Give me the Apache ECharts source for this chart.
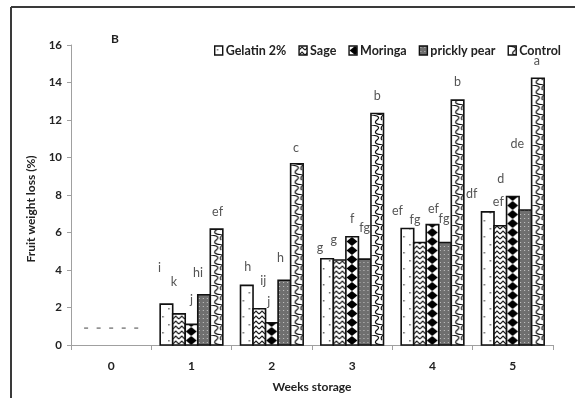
<!DOCTYPE html>
<html>
<head>
<meta charset="utf-8">
<script src="https://cdn.jsdelivr.net/npm/echarts@6/dist/echarts.min.js"></script>
<style>
  html, body { margin: 0; padding: 0; background: #fff; }
  #chart { width: 575px; height: 398px; }
</style>
</head>
<body>
<div id="chart"></div>
<script>
// Fruit weight loss (%) over weeks of storage, per coating treatment
const weeks = ['0', '1', '2', '3', '4', '5'];
const treatments = ['Gelatin 2%', 'Sage', 'Moringa', 'prickly pear', 'Control'];

const gelatin     = [0.9, 2.18, 3.18, 4.60, 6.21, 7.10];
const sage        = [0.9, 1.66, 1.93, 4.53, 5.47, 6.36];
const moringa     = [0.9, 1.10, 1.19, 5.77, 6.42, 7.92];
const pricklyPear = [0.9, 2.68, 3.45, 4.58, 5.47, 7.20];
const control     = [0.9, 6.18, 9.67, 12.35, 13.06, 14.23];

// significance letters
const gelatinLetters     = ['', 'i', 'h', 'g', 'ef', 'df'];
const sageLetters        = ['', 'k', 'ij', 'g', 'fg', 'ef'];
const moringaLetters     = ['', 'j', 'j', 'f', 'ef', 'd'];
const pricklyPearLetters = ['', 'hi', 'h', 'fg', 'fg', 'de'];
const controlLetters     = ['', 'ef', 'c', 'b', 'b', 'a'];

const yTicks = { min: 0, max: 16, step: 2 };

// letter placement: [dx, rise above bar top] per week
const letterNudge = [
  [[0,0], [-7,36], [1,18], [-7,11], [-10,18], [-16,18]],
  [[0,0], [-5,32], [4,28], [-6,20], [-5,22], [-2,24]],
  [[0,0], [0,24], [-3,21], [0,18], [1,16], [-12,18]],
  [[0,0], [-6,22], [-4,22], [0,31], [-1,23], [-8,66]],
  [[0,0], [1,17], [-1,16], [0,17], [0,18], [-1,17]]
];

const values = [gelatin, sage, moringa, pricklyPear, control];
const letters = [gelatinLetters, sageLetters, moringaLetters, pricklyPearLetters, controlLetters];

// ---- fill patterns ----
function makeCanvas(w, h, draw) {
  const c = document.createElement('canvas');
  c.width = w; c.height = h;
  const ctx = c.getContext('2d');
  ctx.fillStyle = '#fff';
  ctx.fillRect(0, 0, w, h);
  draw(ctx, w, h);
  return { image: c, repeat: 'repeat' };
}
const patterns = [
  // dotted
  makeCanvas(12, 16, (ctx) => {
    ctx.fillStyle = '#666';
    ctx.fillRect(2, 3, 1.5, 1.5);
    ctx.fillRect(8, 11, 1.5, 1.5);
  }),
  // zigzag
  makeCanvas(6, 5, (ctx) => {
    ctx.strokeStyle = '#111';
    ctx.lineWidth = 1.1;
    ctx.beginPath();
    ctx.moveTo(0, 4); ctx.lineTo(3, 1); ctx.lineTo(6, 4);
    ctx.stroke();
  }),
  // diamonds
  makeCanvas(12, 9, (ctx) => {
    ctx.fillStyle = '#000';
    ctx.beginPath();
    ctx.moveTo(6, 0); ctx.lineTo(11.5, 4.5); ctx.lineTo(6, 9); ctx.lineTo(0.5, 4.5);
    ctx.closePath();
    ctx.fill();
  }),
  // dark dotted grey
  makeCanvas(4, 4, (ctx) => {
    ctx.fillStyle = '#6f6f6f';
    ctx.fillRect(0, 0, 4, 4);
    ctx.fillStyle = '#c8c8c8';
    ctx.fillRect(1, 1, 1, 1);
  }),
  // wavy rope
  makeCanvas(12, 10, (ctx) => {
    ctx.strokeStyle = '#111';
    ctx.lineWidth = 1.2;
    ctx.beginPath();
    ctx.moveTo(0, 0);
    ctx.quadraticCurveTo(11, 1, 6, 5);
    ctx.quadraticCurveTo(1, 9, 12, 10);
    ctx.stroke();
    ctx.beginPath();
    ctx.moveTo(12, 0);
    ctx.quadraticCurveTo(9, 3, 11, 5);
    ctx.stroke();
  })
];

const GROUP = 0.78;   // share of each category band taken by the bar group

function makeRenderer(k) {
  return function (params, api) {
    const wi = api.value(0);
    const v = api.value(1);
    const band = api.size([1, 0])[0];
    const barW = band * GROUP / treatments.length;
    const base = api.coord([wi, 0]);
    const top = api.coord([wi, v]);
    const left = base[0] - band * GROUP / 2 + k * barW;
    const cx = left + barW / 2;
    if (wi === 0) {
      return {
        type: 'line',
        shape: { x1: cx - 2, y1: top[1], x2: cx + 2, y2: top[1] },
        style: { stroke: '#8a8a8a', lineWidth: 1.6 }
      };
    }
    const h = base[1] - top[1];
    const nudge = letterNudge[k][wi];
    return {
      type: 'group',
      children: [
        {
          type: 'rect',
          x: left, y: base[1],
          shape: { x: 0, y: -h, width: barW, height: h },
          style: { fill: patterns[k], stroke: '#111', lineWidth: 1.6 }
        },
        {
          type: 'text',
          x: cx + nudge[0], y: top[1] - nudge[1],
          style: {
            text: letters[k][wi],
            font: '12.5px Lato',
            fill: '#555',
            align: 'center',
            verticalAlign: 'middle'
          }
        }
      ]
    };
  };
}

const chart = echarts.init(document.getElementById('chart'), null, { renderer: 'canvas' });

chart.setOption({
  animation: false,
  backgroundColor: '#fff',
  grid: { left: 71, right: 22, top: 45, bottom: 48 },
  legend: {
    left: 209,
    top: 39,
    itemWidth: 8,
    itemHeight: 9,
    itemGap: 12,
    selectedMode: false,
    textStyle: { fontFamily: 'Lato', fontWeight: 'bold', fontSize: 12.5, color: '#222', padding: [0, 0, 0, -2] },
    data: treatments.map((name, k) => ({
      name: name,
      icon: 'rect',
      itemStyle: { color: patterns[k], borderColor: '#111', borderWidth: 1.4 }
    }))
  },
  xAxis: {
    type: 'category',
    data: weeks,
    boundaryGap: true,
    name: 'Weeks storage',
    nameLocation: 'middle',
    nameGap: 36,
    nameTextStyle: { fontFamily: 'Lato', fontWeight: 'bold', fontSize: 12, color: '#222' },
    axisLine: { lineStyle: { color: '#a0a0a0', width: 1 } },
    axisTick: { show: true, length: 5, lineStyle: { color: '#a0a0a0' } },
    axisLabel: { fontFamily: 'Lato', fontWeight: 'bold', fontSize: 12, color: '#222', margin: 15 }
  },
  yAxis: {
    type: 'value',
    min: yTicks.min,
    max: yTicks.max,
    interval: yTicks.step,
    splitLine: { show: false },
    axisLine: { show: true, lineStyle: { color: '#a0a0a0', width: 1 } },
    axisTick: { show: true, length: 4, lineStyle: { color: '#a0a0a0' } },
    axisLabel: { fontFamily: 'Lato', fontWeight: 'bold', fontSize: 11.5, color: '#222', margin: 9 }
  },
  graphic: [
    { type: 'line', shape: { x1: 11, y1: 7, x2: 575, y2: 7 }, style: { stroke: '#3a3a3a', lineWidth: 2 } },
    { type: 'line', shape: { x1: 11, y1: 7, x2: 11, y2: 398 }, style: { stroke: '#3a3a3a', lineWidth: 2 } },
    {
      type: 'text', left: 111, top: 33,
      style: { text: 'B', font: 'bold 12px Lato', fill: '#222' }
    },
    {
      type: 'text', x: 31, y: 209, rotation: Math.PI / 2,
      style: {
        text: 'Fruit weight loss (%)', font: 'bold 12px Lato', fill: '#222',
        align: 'center', verticalAlign: 'middle'
      }
    }
  ],
  series: treatments.map((name, k) => ({
    name: name,
    type: 'custom',
    renderItem: makeRenderer(k),
    encode: { x: 0, y: 1 },
    data: weeks.map((w, i) => [i, values[k][i]])
  }))
});
</script>
</body>
</html>
